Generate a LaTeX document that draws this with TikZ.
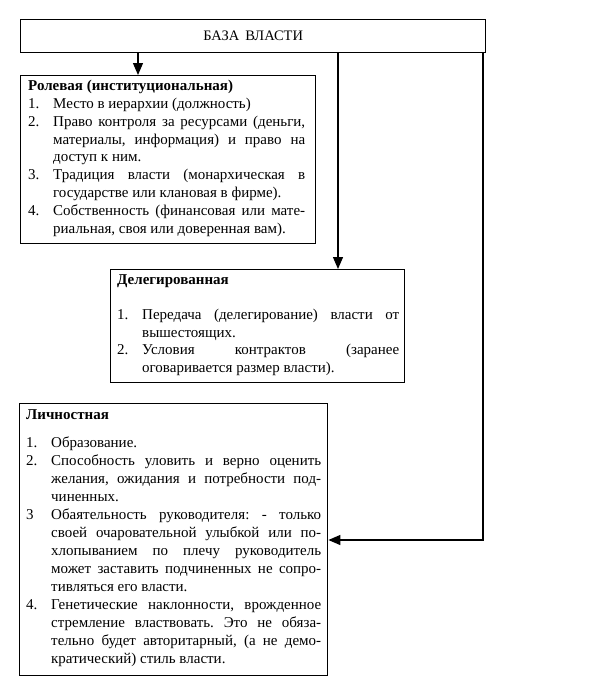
\documentclass[tikz,border=0pt]{standalone}
\usepackage{fontspec}
\setmainfont{Liberation Serif}
\usetikzlibrary{arrows.meta}
\frenchspacing
\newcommand\pitem[2]{\par\hangindent=25pt\hangafter=1\noindent\makebox[25pt][l]{#1}#2}
\tikzset{
  box/.style={draw, line width=1.4pt, inner sep=0pt, anchor=north west},
  txt/.style={inner sep=0pt, anchor=north west, align=justify,
    font=\fontsize{15}{17.8}\selectfont,
    execute at begin node={\frenchspacing\tolerance=10000\relax\hyphenpenalty=10000\relax}},
  arr/.style={line width=1.3pt, -{Triangle[length=12pt,width=10pt]}}
}
\begin{document}
\begin{tikzpicture}[x=1pt,y=-1pt]
\useasboundingbox (0,0) rectangle (595,683);
% boxes
\node[box, minimum width=465pt, minimum height=33pt,
  font=\fontsize{14.5}{17.8}\selectfont] (top) at (20,19) {БАЗА\hspace{6pt}ВЛАСТИ};
\node[box, minimum width=295pt, minimum height=168pt] (b1) at (20,75) {};
\node[box, minimum width=294pt, minimum height=113pt] (b2) at (110,269) {};
\node[box, minimum width=308pt, minimum height=272pt] (b3) at (19,403) {};
% texts
\node[txt, text width=277pt] (t1) at (28,80) {%
\textbf{Ролевая (институциональная)}
\pitem{1.}{Место в иерархии (должность)}
\pitem{2.}{Право контроля за ресурсами (деньги,\linebreak материалы, информация) и право на\linebreak доступ к ним.}
\pitem{3.}{Традиция власти (монархическая в\linebreak государстве или клановая в фирме).}
\pitem{4.}{Собственность (финансовая или мате-\linebreak риальная, своя или доверенная вам).}\par};
\node[txt, text width=282pt] (t2) at (117,274) {%
\textbf{Делегированная}\par\vspace{17.5pt}
\pitem{1.}{Передача (делегирование) власти от\linebreak вышестоящих.}
\pitem{2.}{Условия контрактов (заранее\linebreak оговаривается размер власти).}\par};
\node[txt, text width=295pt, font=\fontsize{15}{18}\selectfont] (t3) at (26,409) {%
\textbf{Личностная}\par\vspace{10pt}
\pitem{1.}{Образование.}
\pitem{2.}{Способность уловить и верно оценить\linebreak желания, ожидания и потребности под-\linebreak чиненных.}
\pitem{3}{Обаятельность руководителя: - только\linebreak своей очаровательной улыбкой или по-\linebreak хлопыванием по плечу руководитель\linebreak может заставить подчиненных не сопро-\linebreak тивляться его власти.}
\pitem{4.}{Генетические наклонности, врожденное\linebreak стремление властвовать. Это не обяза-\linebreak тельно будет авторитарный, (а не демо-\linebreak кратический) стиль власти.}\par};
% connectors
\draw[arr] (top.south -| 138,0) -- (b1.north -| 138,0);
\draw[arr] (top.south -| 338,0) -- (b2.north -| 338,0);
\draw[arr] (top.south -| 483,0) |- (b3.east |- 0,540);
\end{tikzpicture}
\end{document}
